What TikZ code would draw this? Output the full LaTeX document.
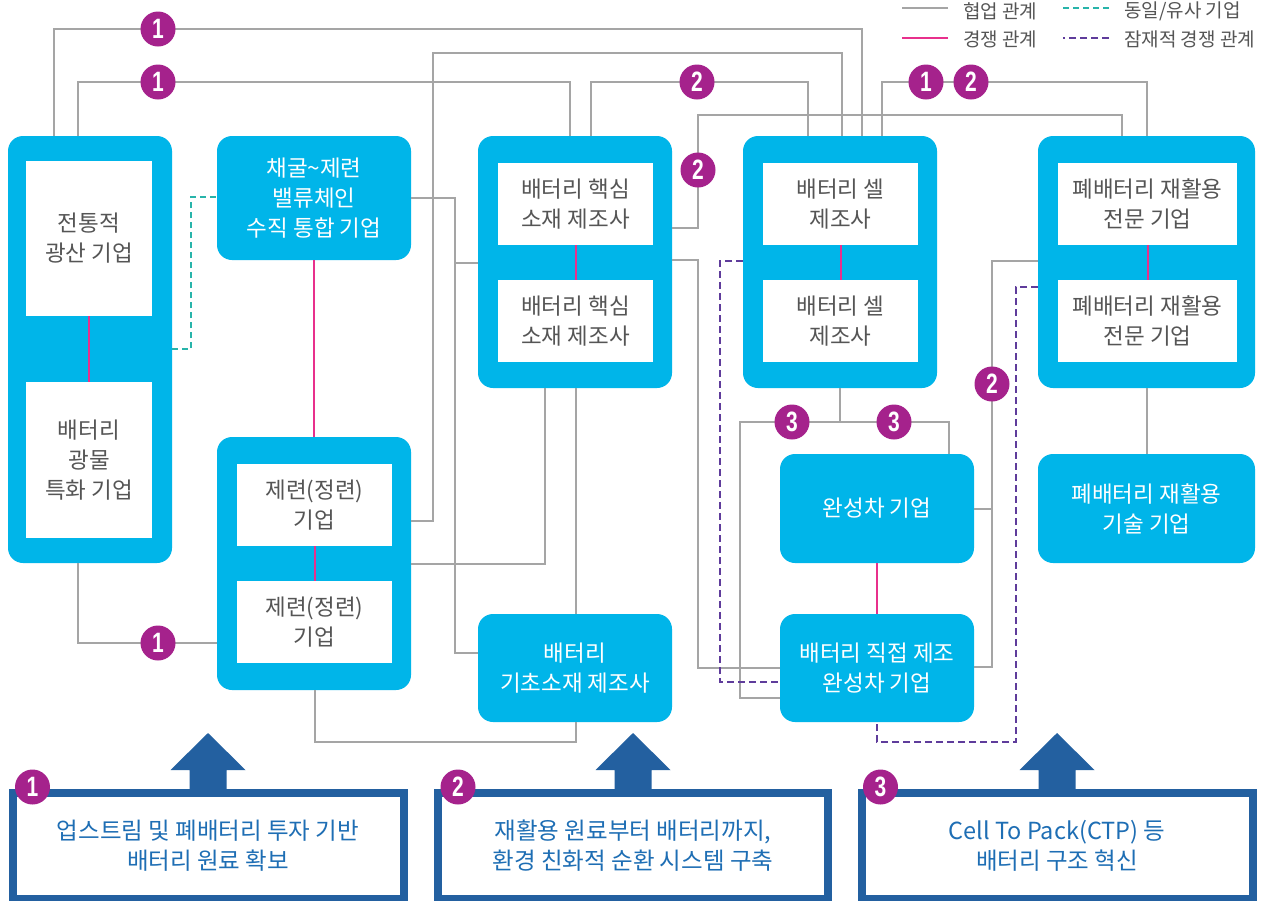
\documentclass[tikz,border=0pt]{standalone}
\usepackage{fontspec}
\setmainfont{Noto Sans CJK KR}
\newfontfamily\numfont[FakeStretch=0.75]{Liberation Sans}
\usepackage{tikz}

\definecolor{cian}{RGB}{0,181,233}
\definecolor{azul}{RGB}{35,96,160}
\definecolor{azultexto}{RGB}{30,110,180}
\definecolor{morado}{RGB}{165,34,140}
\definecolor{rosa}{RGB}{232,48,140}
\definecolor{turquesa}{RGB}{40,180,170}
\definecolor{violeta}{RGB}{95,60,155}
\definecolor{gris}{RGB}{165,165,165}
\definecolor{gristexto}{RGB}{85,85,85}

\begin{document}
\begin{tikzpicture}[x=1pt,y=-1pt,
  grupo/.style={fill=cian,rounded corners=15pt,inner sep=0pt,outer sep=0pt},
  interno/.style={fill=white,text=gristexto,align=center,inner sep=0pt,outer sep=0pt,
    font=\fontsize{22.5}{30}\selectfont},
  solido/.style={fill=cian,rounded corners=15pt,text=white,align=center,inner sep=0pt,
    outer sep=0pt,font=\fontsize{22.5}{30}\selectfont},
  insignia/.style={circle,fill=morado,text=white,minimum size=35pt,inner sep=0pt,
    font=\numfont\bfseries\fontsize{28}{28}\selectfont},
  colab/.style={draw=gris,line width=1.5pt},
  compet/.style={draw=rosa,line width=2pt},
  similar/.style={draw=turquesa,line width=2.2pt,dash pattern=on 6pt off 4pt},
  potencial/.style={draw=violeta,line width=2.2pt,dash pattern=on 7pt off 4pt},
  leyenda/.style={text=gristexto,anchor=west,inner sep=0pt,font=\fontsize{19}{22}\selectfont},
  meta/.style={draw=azul,line width=8pt,text=azultexto,align=center,minimum height=106pt,
    inner sep=0pt,font=\fontsize{23.5}{30}\selectfont}]

% Marco
\path[use as bounding box,fill=white] (0,0) rectangle (1266,900);

% Cajas de empresas
\node[grupo,minimum width=164pt,minimum height=427pt] (gA) at (90,349.5) {};
\node[interno,minimum width=126pt,minimum height=155pt] (a1) at (89,238.5) {전통적\\광산 기업};
\node[interno,minimum width=126pt,minimum height=156pt] (a2) at (89,460) {배터리\\광물\\특화 기업};

\node[solido,minimum width=194pt,minimum height=124pt] (b) at (314,198) {채굴\textasciitilde 제련\\밸류체인\\수직 통합 기업};

\node[grupo,minimum width=194pt,minimum height=253pt] (gC) at (314,563.5) {};
\node[interno,minimum width=155pt,minimum height=82pt] (c1) at (314.5,505) {제련(정련)\\기업};
\node[interno,minimum width=155pt,minimum height=82pt] (c2) at (314.5,622) {제련(정련)\\기업};

\node[grupo,minimum width=194pt,minimum height=252pt] (gD) at (575,262) {};
\node[interno,minimum width=155pt,minimum height=82pt] (d1) at (575.5,204) {배터리 핵심\\소재 제조사};
\node[interno,minimum width=155pt,minimum height=82pt] (d2) at (575.5,321) {배터리 핵심\\소재 제조사};

\node[solido,minimum width=194pt,minimum height=108pt] (e) at (575,668) {배터리\\기초소재 제조사};

\node[grupo,minimum width=194pt,minimum height=252pt] (gF) at (840,262) {};
\node[interno,minimum width=155pt,minimum height=82pt] (f1) at (840.5,204) {배터리 셀\\제조사};
\node[interno,minimum width=155pt,minimum height=82pt] (f2) at (840.5,321) {배터리 셀\\제조사};

\node[solido,minimum width=194pt,minimum height=109pt] (g) at (877,508.5) {완성차 기업};
\node[solido,minimum width=194pt,minimum height=108pt] (h) at (877,668) {배터리 직접 제조\\완성차 기업};

\node[grupo,minimum width=217pt,minimum height=252pt] (gI) at (1146.5,262) {};
\node[interno,minimum width=179pt,minimum height=82pt] (i1) at (1147.5,204) {폐배터리 재활용\\전문 기업};
\node[interno,minimum width=179pt,minimum height=82pt] (i2) at (1147.5,321) {폐배터리 재활용\\전문 기업};

\node[solido,minimum width=217pt,minimum height=109pt] (j) at (1146.5,508.5) {폐배터리 재활용\\기술 기업};

% Relaciones de colaboración
\draw[colab] (gA.north -| 54,0) -- (54,29) -| (gF.north -| 862,0);
\draw[colab] (gA.north -| 78,0) -- (78,82) -| (gD.north -| 570,0);
\draw[colab] (gC.east |- 0,521) -| (433,53) -| (gF.north -| 842,0);
\draw[colab] (gD.north -| 591,0) |- (808,82) -- (gF.north -| 808,0);
\draw[colab] (gD.east |- 0,228) -| (698,115) -| (gI.north -| 1122,0);
\draw[colab] (gF.north -| 882,0) |- (1147,82) -- (gI.north -| 1147,0);
\draw[colab] (b.east) -| (455,263) -- (gD.west |- 0,263);
\draw[colab] (b.east) -| (455,653) -- (e.west |- 0,653);
\draw[colab] (gD.south -| 545,0) |- (gC.east |- 0,564);
\draw[colab] (gD.south -| 576,0) -- (e.north -| 576,0);
\draw[colab] (gC.south -| 315,0) |- (576,742) -- (e.south -| 576,0);
\draw[colab] (gD.east |- 0,260) -| (698,668) -- (h.west |- 0,668);
\draw[colab] (gF.south) |- (740,422) |- (h.west |- 0,698);
\draw[colab] (gF.south) |- (949,422) -- (g.north -| 949,0);
\draw[colab] (gI.west |- 0,261) -| (992,509) -- (g.east |- 0,509);
\draw[colab] (gI.west |- 0,261) -| (992,667) -- (h.east |- 0,667);
\draw[colab] (gI.south -| 1147,0) -- (j.north -| 1147,0);
\draw[colab] (gA.south -| 78,0) |- (gC.west |- 0,643);

% Relaciones de competencia
\draw[compet] (a1.south) -- (a2.north);
\draw[compet] (b.south) -- (gC.north);
\draw[compet] (c1.south) -- (c2.north);
\draw[compet] (d1.south) -- (d2.north);
\draw[compet] (f1.south) -- (f2.north);
\draw[compet] (g.south) -- (h.north);
\draw[compet] (i1.south) -- (i2.north);

% Empresas similares y competencia potencial
\draw[similar] (gA.east |- 0,349) -| (191,197) -- (b.west |- 0,197);
\draw[potencial] (gF.west |- 0,261) -| (720,682) -- (h.west |- 0,682);
\draw[potencial] (gI.west |- 0,287) -| (1016,742) -| (h.south);

% Números sobre las líneas
\node[insignia] (n1) at (158,29) {1};
\node[insignia] (n2) at (158,82) {1};
\node[insignia] (n3) at (697,82) {2};
\node[insignia] (n4) at (698,170) {2};
\node[insignia] (n5) at (926,82) {1};
\node[insignia] (n6) at (971,82) {2};
\node[insignia] (n7) at (792,422) {3};
\node[insignia] (n8) at (894,422) {3};
\node[insignia] (n9) at (992,384) {2};
\node[insignia] (n10) at (158,643) {1};

% Leyenda
\node[leyenda] (l1) at (963,11) {협업 관계};
\node[leyenda] (l2) at (963,39) {경쟁 관계};
\node[leyenda] (l3) at (1124,11) {동일/유사 기업};
\node[leyenda] (l4) at (1124,39) {잠재적 경쟁 관계};
\draw[colab,line width=1.2pt] ([xshift=-15pt,yshift=3pt]l1.west) -- ++(-46,0);
\draw[compet] ([xshift=-15pt,yshift=1pt]l2.west) -- ++(-46,0);
\draw[similar,line width=2pt] ([xshift=-15pt,yshift=3pt]l3.west) -- ++(-46,0);
\draw[potencial,line width=2pt] ([xshift=-15pt,yshift=1pt]l4.west) -- ++(-46,0);

% Estrategias
\node[meta,minimum width=391pt] (k1) at (208,846) {업스트림 및 폐배터리 투자 기반\\배터리 원료 확보};
\node[meta,minimum width=390pt] (k2) at (633,846) {재활용 원료부터 배터리까지,\\환경 친화적 순환 시스템 구축};
\node[meta,minimum width=391pt] (k3) at (1057,846) {Cell To Pack(CTP) 등\\배터리 구조 혁신};
\foreach \k in {k1,k2,k3}
  \fill[azul] ([xshift=-18.5pt]\k.north) -- ++(0,-19) -- ++(-19,0) -- ++(37.5,-37)
    -- ++(37.5,37) -- ++(-19,0) -- ++(0,19) -- cycle;
\node[insignia] (m1) at ([xshift=24pt,yshift=2pt]k1.north west) {1};
\node[insignia] (m2) at ([xshift=24pt,yshift=2pt]k2.north west) {2};
\node[insignia] (m3) at ([xshift=23pt,yshift=2pt]k3.north west) {3};
\end{tikzpicture}
\end{document}
